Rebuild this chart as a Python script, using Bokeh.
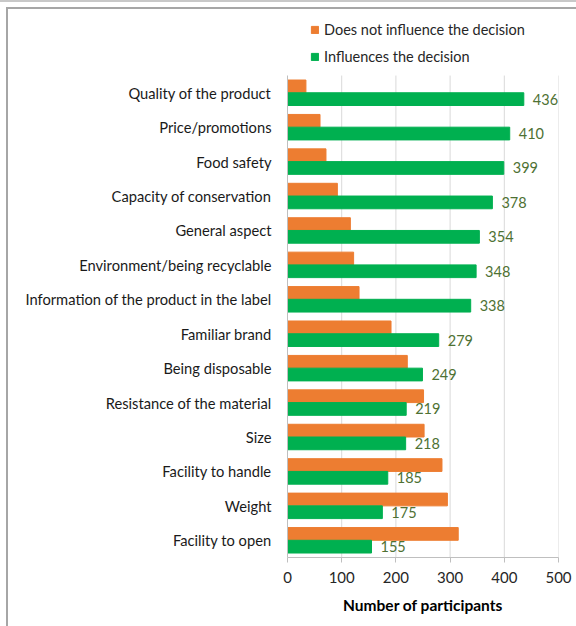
from bokeh.plotting import figure
from bokeh.models import (ColumnDataSource, Range1d, Legend, LegendItem, FixedTicker)
from bokeh.embed import file_html
from bokeh.resources import INLINE
from bokeh.core.properties import value

categories = ["Quality of the product", "Price/promotions", "Food safety",
              "Capacity of conservation", "General aspect", "Environment/being recyclable",
              "Information of the product in the label", "Familiar brand", "Being disposable",
              "Resistance of the material", "Size", "Facility to handle", "Weight",
              "Facility to open"]
influences = [436, 410, 399, 378, 354, 348, 338, 279, 249, 219, 218, 185, 175, 155]
not_influence = [34, 60, 71, 92, 116, 122, 132, 191, 221, 251, 252, 285, 295, 315]
series_names = ["Does not influence the decision", "Influences the decision"]
x_ticks = [0, 100, 200, 300, 400, 500]

FONT = "Lato"
ORANGE = "#ED7D31"
GREEN = "#00B050"

n = len(categories)
ypos = [n - 1 - i for i in range(n)]
src = ColumnDataSource(dict(
    y=ypos,
    y_top=[v + 0.185 for v in ypos],
    y_bot=[v - 0.185 for v in ypos],
    inf=influences, notinf=not_influence,
    lab=[str(v) for v in influences]))

p = figure(width=576, height=626, y_range=Range1d(-0.5, 15.68),
           x_range=Range1d(0, 500), output_backend="svg", toolbar_location=None,
           min_border_left=287, min_border_right=18, min_border_top=0,
           min_border_bottom=69)
p.outline_line_color = None
p.border_fill_color = None
p.background_fill_color = None
p.styles = {
    "background-color": "white",
    "background-image": ("linear-gradient(#c8c8c8,#c8c8c8), "
                         "linear-gradient(#a6a6a6,#a6a6a6), "
                         "linear-gradient(#a6a6a6,#a6a6a6)"),
    "background-size": "100% 2px, 100% 2px, 2px 100%",
    "background-position": "0px 0px, 6px 7px, 6px 7px",
    "background-repeat": "no-repeat",
}

# vertical gridlines limited to the category area
p.segment(x0=x_ticks[1:], x1=x_ticks[1:], y0=-0.5, y1=n - 0.5,
          line_color="#d9d9d9", line_width=1)

r1 = p.hbar(y="y_top", right="notinf", height=0.37, source=src, color=ORANGE)
r2 = p.hbar(y="y_bot", right="inf", height=0.37, source=src, color=GREEN)
p.text(x="inf", y="y_bot", text="lab", source=src,
       x_offset=9, text_baseline="middle", text_align="left",
       text_font=value(FONT), text_font_size="14.5px", text_color="#4E7133")

p.xgrid.visible = False
p.ygrid.visible = False
p.xaxis.ticker = x_ticks
p.xaxis.axis_line_color = "#bfbfbf"
p.xaxis.major_tick_line_color = "#bfbfbf"
p.xaxis.major_tick_out = 5
p.xaxis.major_tick_in = 0
p.xaxis.minor_tick_line_color = None
p.xaxis.major_label_text_font = FONT
p.xaxis.major_label_text_font_size = "15px"
p.xaxis.major_label_text_color = "#262626"
p.xaxis.major_label_standoff = 9
p.xaxis.axis_label = "Number of participants"
p.xaxis.axis_label_text_font = FONT
p.xaxis.axis_label_text_font_style = "bold"
p.xaxis.axis_label_text_font_size = "15.5px"
p.xaxis.axis_label_text_color = "#000000"
p.xaxis.axis_label_standoff = 10

p.yaxis.ticker = FixedTicker(ticks=ypos)
p.yaxis.major_label_overrides = {v: c for v, c in zip(ypos, categories)}
p.yaxis.bounds = (-0.5, n - 0.5)
p.yaxis.axis_line_color = "#bfbfbf"
p.yaxis.major_tick_line_color = None
p.yaxis.minor_tick_line_color = None
p.yaxis.major_label_text_font = FONT
p.yaxis.major_label_text_font_size = "14.7px"
p.yaxis.major_label_text_color = "#1a1a1a"
p.yaxis.major_label_standoff = 10

legend = Legend(items=[LegendItem(label=series_names[0], renderers=[r1]),
                       LegendItem(label=series_names[1], renderers=[r2])],
                location=(23, 492), orientation="vertical",
                glyph_width=9, glyph_height=9, label_height=15, spacing=10,
                label_standoff=5, padding=0, margin=0,
                border_line_alpha=0, background_fill_alpha=0,
                label_text_font=FONT, label_text_font_size="14.5px",
                label_text_color="#262626")
p.add_layout(legend, "center")

open("out.html", "w").write(file_html(p, INLINE))
